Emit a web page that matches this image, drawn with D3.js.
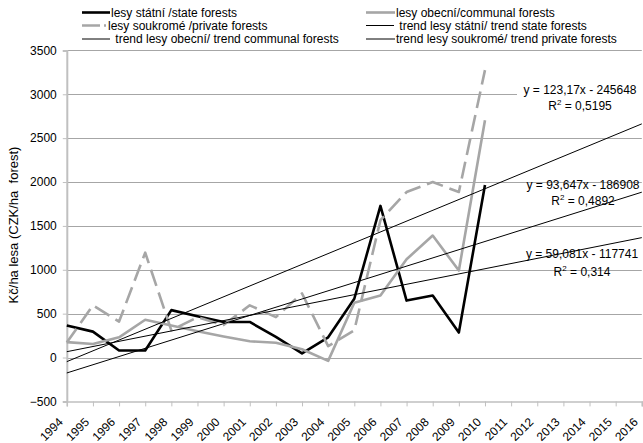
<!DOCTYPE html>
<html>
<head>
<meta charset="utf-8">
<script src="https://cdn.jsdelivr.net/npm/d3@7"></script>
<style>
  html, body { margin: 0; padding: 0; background: #fff; }
  svg { display: block; font-family: "Liberation Sans", Arial, sans-serif; }
</style>
</head>
<body>
<svg id="chart" width="643" height="443"></svg>
<script>
// Forest payments per hectare by ownership type, 1994–2010, with linear trends to 2016
const years = [1994, 1995, 1996, 1997, 1998, 1999, 2000, 2001, 2002, 2003, 2004, 2005, 2006, 2007, 2008, 2009, 2010];
const axisYears = [1994, 1995, 1996, 1997, 1998, 1999, 2000, 2001, 2002, 2003, 2004, 2005,
                   2006, 2007, 2008, 2009, 2010, 2011, 2012, 2013, 2014, 2015, 2016];
const stateForests = [365, 295, 80, 80, 540, 470, 405, 405, 235, 48, 230, 670, 1728, 649, 706, 285, 1967];
const communalForests = [175, 155, 230, 430, 365, 300, 240, 185, 168, 95, -38, 625, 706, 1120, 1390, 991, 2705];
const privateForests = [170, 595, 410, 1195, 310, 460, 370, 595, 460, 730, 130, 310, 1565, 1886, 2000, 1886, 3275];
const yTicks = [-500, 0, 500, 1000, 1500, 2000, 2500, 3000, 3500];

// Fitted trend equations (y = slope·year + intercept)
const trendSlopes = { state: 59.081, communal: 93.647, private: 123.17 };
const trendIntercepts = { state: -117741, communal: -186908, private: -245648 };
const trendR2 = { state: "0,314", communal: "0,4892", private: "0,5195" };
const trendSlopeText = { state: "59,081", communal: "93,647", private: "123,17" };

const legendLabels = [
  "lesy státní /state forests",
  "lesy obecní/communal forests",
  "lesy soukromé /private forests",
  " trend lesy státní/ trend state forests",
  " trend lesy obecní/ trend communal forests",
  "trend lesy soukromé/ trend private forests"
];

const svg = d3.select("#chart");
const FONT = "Liberation Sans, Arial, sans-serif";
const GRID = "#a6a6a6", AXIS = "#c0c0c0", SERIES_GRAY = "#a6a6a6";

const x = d3.scalePoint().domain(axisYears).range([66.8, 641.8]);
const y = d3.scaleLinear().domain([-500, 3500]).range([401.4, 50.4]);

// horizontal gridlines
svg.append("g").selectAll("line")
  .data(yTicks.filter(t => t !== -500))
  .join("line")
  .attr("x1", 66.8).attr("x2", 641.8)
  .attr("y1", d => Math.round(y(d)) + 0.5).attr("y2", d => Math.round(y(d)) + 0.5)
  .attr("stroke", GRID).attr("stroke-width", 1);

// y axis
const yAxis = svg.append("g")
  .attr("transform", "translate(66.8,0)")
  .call(d3.axisLeft(y).tickValues(yTicks).tickSize(4).tickPadding(6).tickFormat(d3.format("d")));
yAxis.select(".domain").attr("stroke", AXIS).attr("stroke-width", 2);
yAxis.selectAll(".tick line").attr("stroke", AXIS);
yAxis.selectAll("text").attr("font-size", 12).attr("fill", "#000").attr("font-family", FONT);

// x axis at the bottom of the value range; labels are set separately, slanted
const xAxis = svg.append("g")
  .attr("transform", `translate(0,${y(-500)})`)
  .call(d3.axisBottom(x).tickSize(5).tickFormat(() => ""));
xAxis.select(".domain").attr("stroke", AXIS).attr("stroke-width", 1.5);
xAxis.selectAll(".tick line").attr("stroke", AXIS);

svg.append("g").attr("font-size", 12).attr("font-family", FONT)
  .selectAll("text")
  .data(axisYears)
  .join("text")
  .attr("text-anchor", "end")
  .attr("dy", "0.35em")
  .attr("transform", d => `translate(${x(d) - 6},${y(-500) + 18.5}) rotate(-45)`)
  .text(d => d);

// y axis title
svg.append("text")
  .attr("transform", "translate(18,225) rotate(-90)")
  .attr("text-anchor", "middle")
  .attr("font-size", 13)
  .style("white-space", "pre")
  .text("Kč/ha lesa (CZK/ha  forest)");

// data series
const line = d3.line().x((d, i) => x(years[i])).y(d => y(d));
svg.append("path").datum(stateForests)
  .attr("d", line).attr("fill", "none").attr("stroke", "#000").attr("stroke-width", 2.6)
  .attr("stroke-linejoin", "round");
svg.append("path").datum(communalForests)
  .attr("d", line).attr("fill", "none").attr("stroke", SERIES_GRAY).attr("stroke-width", 2.6)
  .attr("stroke-linejoin", "round");
svg.append("path").datum(privateForests)
  .attr("d", line).attr("fill", "none").attr("stroke", SERIES_GRAY).attr("stroke-width", 2.6)
  .attr("stroke-dasharray", "17,7").attr("stroke-linejoin", "round");

// trend lines over the full axis range
const trendLine = d3.line().x(d => x(d[0])).y(d => y(d[1]));
["state", "communal", "private"].forEach(k => {
  const pts = [axisYears[0], axisYears[axisYears.length - 1]]
    .map(yr => [yr, trendSlopes[k] * yr + trendIntercepts[k]]);
  svg.append("path").datum(pts)
    .attr("d", trendLine).attr("fill", "none").attr("stroke", "#000").attr("stroke-width", 1);
});

// trend equation labels
const eqPos = { private: [580, 94, 16], communal: [583, 189, 16], state: [582, 258, 18] };
["private", "communal", "state"].forEach(k => {
  const [cx, cy, gap] = eqPos[k];
  const intercept = Math.abs(trendIntercepts[k]);
  const g = svg.append("g").attr("font-size", 12).attr("text-anchor", "middle");
  const eq = `y = ${trendSlopeText[k]}x - ${intercept}`;
  if (k === "private") {
    g.append("rect").attr("x", cx - 63).attr("y", cy - 10).attr("width", 126).attr("height", 13)
      .attr("fill", "#fff");
  }
  g.append("text").attr("x", cx).attr("y", cy).text(eq);
  const r = g.append("text").attr("x", cx).attr("y", cy + gap);
  r.append("tspan").text("R");
  r.append("tspan").attr("font-size", 8).attr("dy", -5).text("2");
  r.append("tspan").attr("dy", 5).text(` = ${trendR2[k]}`);
});

// legend
const legend = svg.append("g").attr("font-size", 12);
const legendItems = [
  { col: 0, row: 0, color: "#000", w: 2.6, dash: null, len: 28, tx: 111 },
  { col: 1, row: 0, color: SERIES_GRAY, w: 2.6, dash: null, len: 29, tx: 396 },
  { col: 0, row: 1, color: SERIES_GRAY, w: 2.6, dash: "18,4", len: 24, tx: 108 },
  { col: 1, row: 1, color: "#000", w: 1, dash: null, len: 28, tx: 396 },
  { col: 0, row: 2, color: "#000", w: 1, dash: null, len: 28, tx: 112 },
  { col: 1, row: 2, color: "#000", w: 1, dash: null, len: 29, tx: 396 }
];
const colX = [82, 366];
const rowY = [12.5, 25.5, 39];
legendItems.forEach((it, i) => {
  const yy = rowY[it.row];
  const x0 = colX[it.col];
  const ln = legend.append("line")
    .attr("x1", x0).attr("x2", x0 + it.len).attr("y1", yy).attr("y2", yy)
    .attr("stroke", it.color).attr("stroke-width", it.w);
  if (it.dash) ln.attr("stroke-dasharray", it.dash);
  legend.append("text").attr("x", it.tx).attr("y", yy + 4)
    .style("white-space", "pre").text(legendLabels[i]);
});
</script>
</body>
</html>
